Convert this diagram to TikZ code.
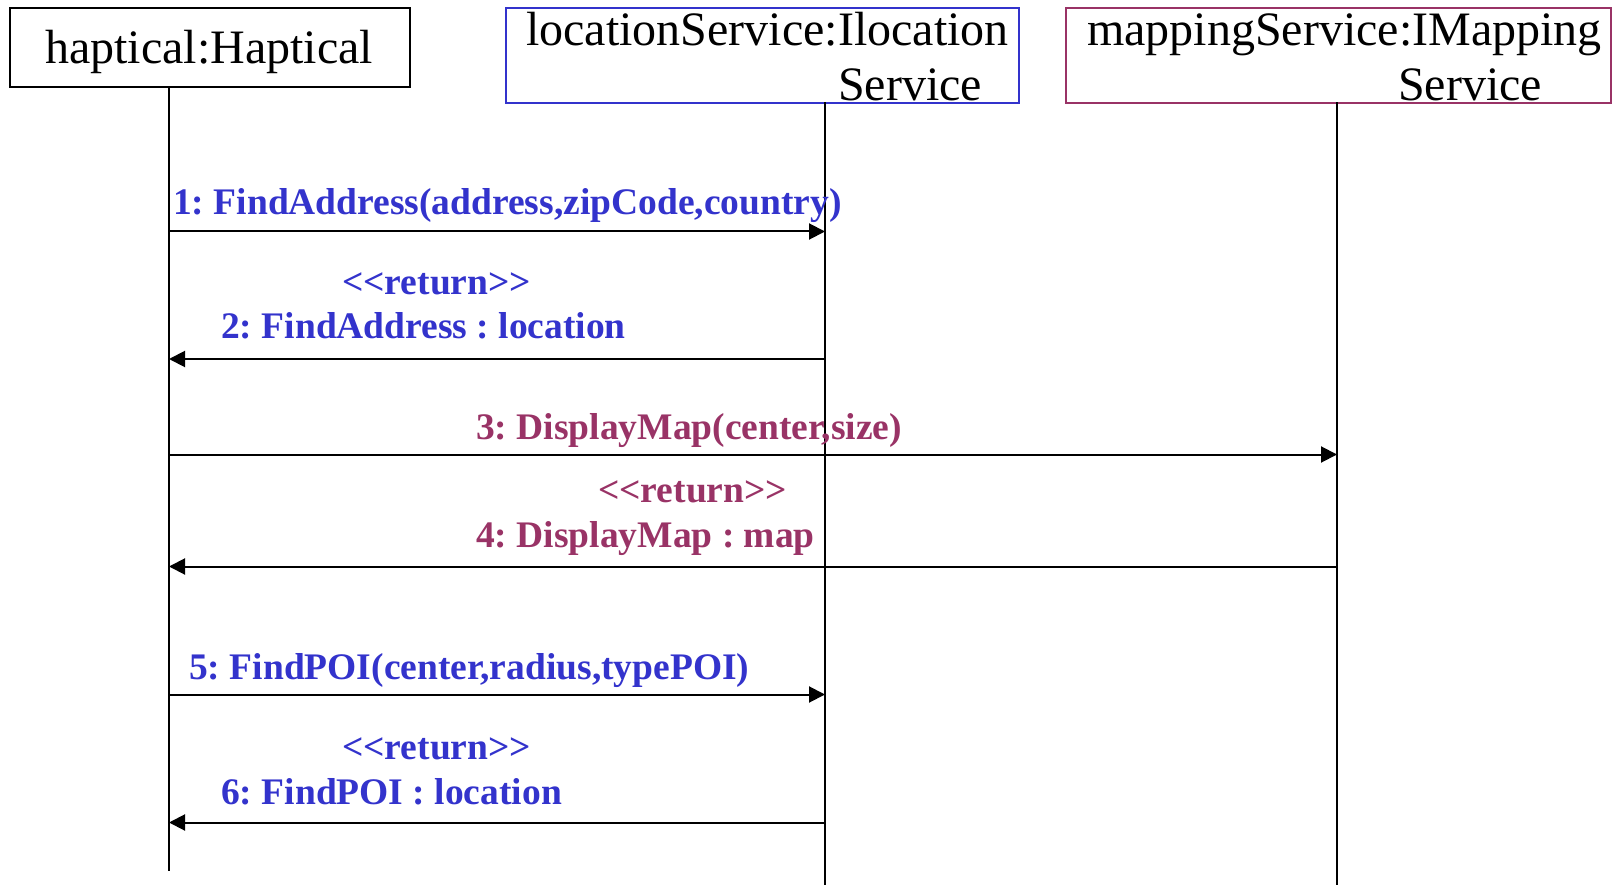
\documentclass[tikz,border=0pt]{standalone}
\usepackage{fontspec}
\setmainfont{Liberation Serif}[Ligatures=NoCommon]
\frenchspacing
\usetikzlibrary{arrows.meta}
\definecolor{msgblue}{RGB}{51,51,204}
\definecolor{msgmag}{RGB}{153,51,102}
\newcommand{\retlbl}{{<}{<}return{>}{>}}
\begin{document}
\begin{tikzpicture}[x=1pt,y=-1pt,
  objbox/.style={draw,line width=2pt,inner sep=0pt,anchor=north west},
  hdr/.style={inner sep=0pt,anchor=base west,font=\fontsize{48}{56}\selectfont},
  lbl/.style={inner sep=0pt,anchor=base west,font=\fontsize{37.5}{44}\selectfont\bfseries},
  life/.style={line width=1.8pt},
  msg/.style={line width=2pt,-{Triangle[length=16pt,width=16pt]}}
]
\useasboundingbox (0,0) rectangle (1612,885);
% object boxes
\node[objbox,minimum width=400pt,minimum height=79pt] (hbox) at (9,7.5) {};
\node[objbox,draw=msgblue,minimum width=513pt,minimum height=95pt] (lbox) at (505,7.5) {};
\node[objbox,draw=msgmag,minimum width=545pt,minimum height=95pt] (mbox) at (1065,7.5) {};
\node[hdr] (htxt) at (45,64) {haptical:Haptical};
\node[hdr] (ltxt1) at (526,46) {locationService:Ilocation};
\node[hdr] (ltxt2) at (838,101) {Service};
\node[hdr] (mtxt1) at (1087,46) {mappingService:IMapping};
\node[hdr] (mtxt2) at (1398,101) {Service};
% lifelines
\coordinate (htop) at (169,86.5);
\coordinate (hbot) at (169,871);
\coordinate (ltop) at (825,102.5);
\coordinate (lbot) at (825,885);
\coordinate (mtop) at (1337,102.5);
\coordinate (mbot) at (1337,885);
\draw[life] (htop) -- (hbot);
\draw[life] (ltop) -- (lbot);
\draw[life] (mtop) -- (mbot);
% message end points
\coordinate (h1) at (169,231.5); \coordinate (l1) at (825,231.5);
\coordinate (h2) at (169,359);   \coordinate (l2) at (825,359);
\coordinate (h3) at (169,454.5); \coordinate (m3) at (1337,454.5);
\coordinate (h4) at (169,566.5); \coordinate (m4) at (1337,566.5);
\coordinate (h5) at (169,694.5); \coordinate (l5) at (825,694.5);
\coordinate (h6) at (169,822.5); \coordinate (l6) at (825,822.5);
\draw[msg] (h1) -- (l1);
\draw[msg] (l2) -- (h2);
\draw[msg] (h3) -- (m3);
\draw[msg] (m4) -- (h4);
\draw[msg] (h5) -- (l5);
\draw[msg] (l6) -- (h6);
% labels
\node[lbl,text=msgblue] (t1) at (173,215) {1: FindAddress(address,zipCode,country)};
\node[lbl,text=msgblue] (t2a) at (342,295) {\retlbl};
\node[lbl,text=msgblue] (t2b) at (221,339) {2: FindAddress : location};
\node[lbl,text=msgmag] (t3) at (476,439) {3: DisplayMap(center,size)};
\node[lbl,text=msgmag] (t4a) at (598,502) {\retlbl};
\node[lbl,text=msgmag] (t4b) at (476,547) {4: DisplayMap : map};
\node[lbl,text=msgblue] (t5) at (189,679) {5: FindPOI(center,radius,typePOI)};
\node[lbl,text=msgblue] (t6a) at (342,759) {\retlbl};
\node[lbl,text=msgblue] (t6b) at (221,804) {6: FindPOI : location};
\end{tikzpicture}
\end{document}
